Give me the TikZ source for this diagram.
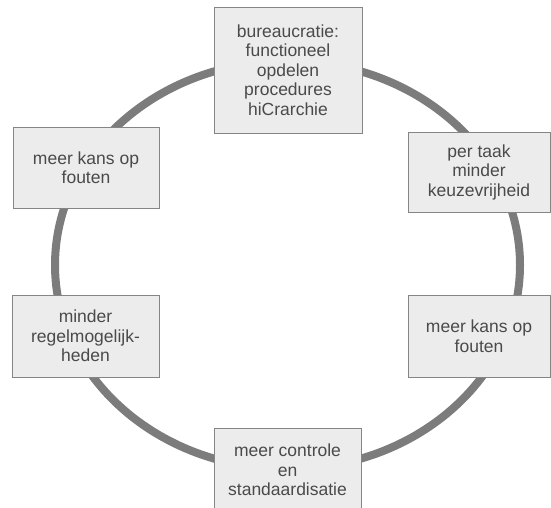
\documentclass[tikz,border=0pt]{standalone}
\usepackage{fontspec}
\setmainfont{Liberation Sans}
\begin{document}
\begin{tikzpicture}[x=1pt,y=-1pt,
  box/.style={draw=boxline, fill=boxfill, line width=0.9pt, inner sep=0pt,
    align=center, text=txt, font=\fontsize{17.5}{19.5}\selectfont},
  ring/.style={draw=ringgray, line width=8pt}]
\definecolor{boxline}{HTML}{858585}
\definecolor{boxfill}{HTML}{ECECEC}
\definecolor{txt}{HTML}{4A4A4A}
\definecolor{ringgray}{HTML}{7C7C7C}
\useasboundingbox (0,0) rectangle (551,507);
\begin{scope}
\clip (0,0) rectangle (551,507);
\draw[ring] (287.5,265) ellipse [x radius=232.5, y radius=204];
\node[box, minimum width=148pt, minimum height=126pt] (top) at (288,70) {bureaucratie:\\functioneel\\opdelen\\procedures\\hiCrarchie};
\node[box, minimum width=142pt, minimum height=80pt] (ru) at (479,172) {per taak\\minder\\keuzevrijheid};
\node[box, minimum width=146pt, minimum height=81pt] (lu) at (86,167.5) {meer kans op\\fouten};
\node[box, minimum width=147pt, minimum height=82pt] (ll) at (85.5,336) {minder\\regelmogelijk-\\heden};
\node[box, minimum width=142pt, minimum height=82pt] (rl) at (479,336) {meer kans op\\fouten};
\node[box, minimum width=147pt, minimum height=84pt] (bot) at (287.5,470) {meer controle\\en\\standaardisatie};
\end{scope}
\end{tikzpicture}
\end{document}
